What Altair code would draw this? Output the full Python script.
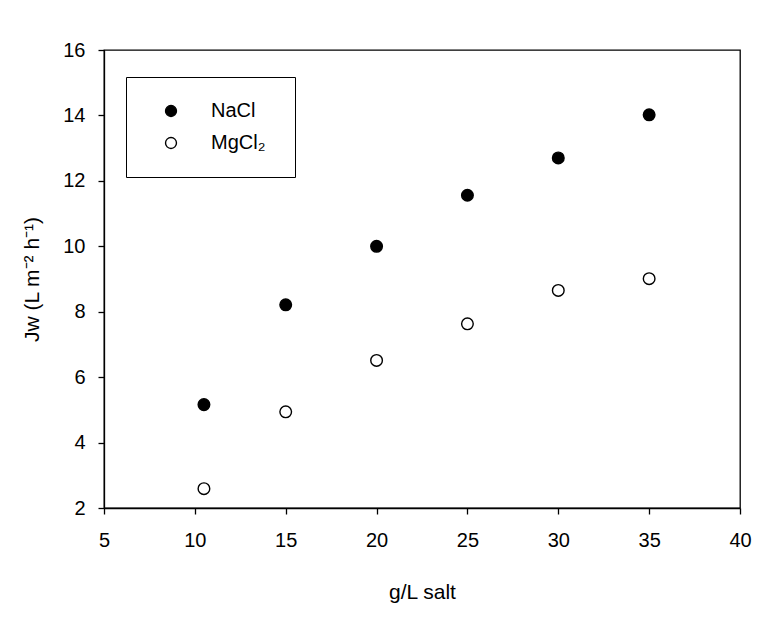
import altair as alt
import pandas as pd

conc = [10.5, 15, 20, 25, 30, 35]
nacl = [5.16, 8.21, 10.0, 11.56, 12.70, 14.02]
mgcl2 = [2.59, 4.94, 6.51, 7.63, 8.65, 9.01]
series = ["NaCl", "MgCl₂"]
x_ticks = [5, 10, 15, 20, 25, 30, 35, 40]
y_ticks = [2, 4, 6, 8, 10, 12, 14, 16]

df = pd.DataFrame({
    "conc": conc + conc,
    "jw": nacl + mgcl2,
    "salt": [series[0]] * len(conc) + [series[1]] * len(conc),
})

FONT = "Liberation Sans"

chart = alt.Chart(df).mark_point(
    shape="circle", filled=True, stroke="black", strokeWidth=1.4, size=135, opacity=1
).encode(
    x=alt.X("conc:Q", title="g/L salt",
            scale=alt.Scale(domain=[5, 40], nice=False, zero=False),
            axis=alt.Axis(values=x_ticks, labelPadding=16, titlePadding=31, labelFlush=False)),
    y=alt.Y("jw:Q", title="Jw (L m⁻² h⁻¹)",
            scale=alt.Scale(domain=[2, 16], nice=False, zero=False),
            axis=alt.Axis(values=y_ticks, labelPadding=13, titlePadding=20, labelFlush=False)),
    fill=alt.Fill("salt:N", scale=alt.Scale(domain=series, range=["black", "white"]),
                  legend=alt.Legend(title="\u00a0", titleOrient="right", titlePadding=6,
                                    titleFontSize=19,
                                    orient="none", legendX=22, legendY=27,
                                    strokeColor="black", padding=24,
                                    symbolType="circle", symbolSize=120,
                                    symbolStrokeColor="black", symbolStrokeWidth=1.4,
                                    symbolOffset=11, labelOffset=30,
                                    labelFontSize=20, labelFont=FONT, labelColor="black",
                                    rowPadding=12, fillColor="white")),
).properties(
    width=636, height=458,
    background="white",
    autosize=alt.AutoSizeParams(type="none"),
    padding={"left": 96, "top": 42, "right": 23, "bottom": 100},
).configure_view(
    stroke="black", strokeWidth=1.3
).configure_axis(
    grid=False, domainColor="black", domainWidth=1.3, tickColor="black", tickWidth=1.3,
    tickSize=6, labelFont=FONT, labelFontSize=20, labelColor="black",
    titleFont=FONT, titleFontSize=21, titleColor="black", titleFontWeight="normal",
)

chart.save("out.html", embed_options={"renderer": "svg", "actions": False})
